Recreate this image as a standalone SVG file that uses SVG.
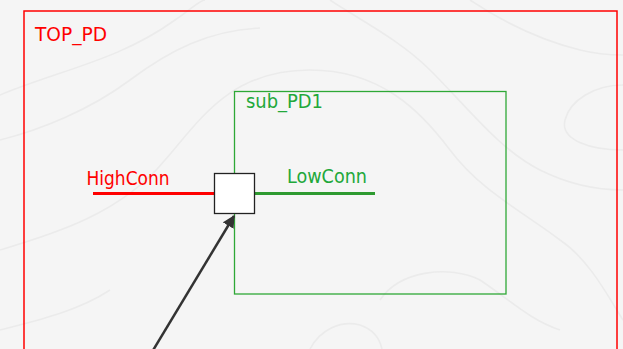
<svg xmlns="http://www.w3.org/2000/svg" width="623" height="349" viewBox="0 0 623 349">
  <style>
    .label { font-family: "DejaVu Sans Condensed", "DejaVu Sans", sans-serif; font-size: 19.5px; }
    .red { fill: #ff0000; }
    .green { fill: #22a83a; }
    .contour { fill: none; stroke: #ebebeb; stroke-width: 1.6; }
  </style>
  <defs>
    <marker id="arrowhead" viewBox="0 0 10 10" refX="9" refY="5" markerWidth="5" markerHeight="5" orient="auto" markerUnits="strokeWidth">
      <path d="M0,0 L10,5 L0,10 Z" fill="#333333"/>
    </marker>
  </defs>

  <!-- canvas with faint terrain lines -->
  <rect x="0" y="0" width="623" height="349" fill="#f5f5f5"/>
  <g id="backdrop">
    <path class="contour" d="M0,95 C60,70 120,60 175,20 C190,10 200,0 205,0"/>
    <path class="contour" d="M0,250 C50,235 120,215 165,160 C200,120 230,70 310,70 C380,70 420,110 450,150 C480,190 520,210 560,240 C590,260 610,300 623,320"/>
    <path class="contour" d="M0,140 C40,130 90,110 130,80 C170,50 210,30 260,28"/>
    <path class="contour" d="M330,0 C360,20 400,40 430,70 C470,110 500,150 540,170 C570,185 600,190 623,190"/>
    <path class="contour" d="M470,0 C500,20 540,40 580,50 C600,55 615,55 623,55"/>
    <path class="contour" d="M623,85 C595,85 570,100 565,120 C560,140 590,150 623,150"/>
    <path class="contour" d="M380,300 C400,270 450,265 480,280 C510,300 530,320 560,330"/>
    <path class="contour" d="M310,349 C320,330 340,320 360,325 C375,330 380,340 382,349"/>
    <path class="contour" d="M0,330 C40,320 80,310 110,290"/>
  </g>

  <g id="TOP_PD">
    <rect x="24" y="11" width="593" height="350" fill="none" stroke="#ff0000" stroke-width="1.5"/>
    <text class="label red" x="35" y="41" textLength="72" lengthAdjust="spacingAndGlyphs">TOP_PD</text>
  </g>

  <g id="sub_PD1">
    <rect x="234.5" y="91.5" width="271.5" height="202.5" fill="none" stroke="#2ea836" stroke-width="1.3"/>
    <text class="label green" x="246" y="108" textLength="77" lengthAdjust="spacingAndGlyphs">sub_PD1</text>
  </g>

  <g id="HighConn">
    <line x1="93" y1="193.5" x2="214" y2="193.5" stroke="#ff0000" stroke-width="3"/>
    <text class="label red" x="86.5" y="184.5" textLength="83" lengthAdjust="spacingAndGlyphs">HighConn</text>
  </g>

  <g id="LowConn">
    <line x1="254" y1="193.5" x2="375" y2="193.5" stroke="#2e9a30" stroke-width="3"/>
    <text class="label green" x="287" y="182.5" textLength="80" lengthAdjust="spacingAndGlyphs">LowConn</text>
  </g>

  <g id="port">
    <rect x="214.5" y="173.5" width="40" height="40" fill="#ffffff" stroke="#222222" stroke-width="1.3"/>
  </g>

  <g id="connectors">
    <line x1="152" y1="352" x2="234" y2="216" stroke="#333333" stroke-width="2.5" marker-end="url(#arrowhead)"/>
  </g>
</svg>
